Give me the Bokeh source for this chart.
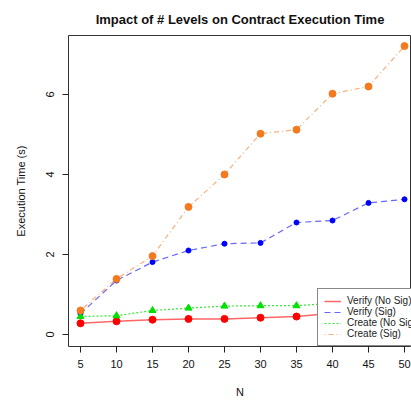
from bokeh.plotting import figure
from bokeh.models import Range1d, FixedTicker, Legend, LegendItem
from bokeh.embed import file_html
from bokeh.resources import INLINE

n_levels = [5, 10, 15, 20, 25, 30, 35, 40, 45, 50]
verify_nosig = [0.28, 0.33, 0.37, 0.39, 0.39, 0.42, 0.45, 0.53, 0.55, 0.58]
verify_sig = [0.52, 1.35, 1.81, 2.10, 2.27, 2.29, 2.80, 2.85, 3.29, 3.38]
create_nosig = [0.45, 0.47, 0.60, 0.66, 0.71, 0.72, 0.72, 0.78, 0.80, 0.82]
create_sig = [0.60, 1.39, 1.96, 3.19, 4.00, 5.02, 5.12, 6.02, 6.20, 7.21]
x_ticks = [5, 10, 15, 20, 25, 30, 35, 40, 45, 50]
y_ticks = [0, 2, 4, 6]
series_names = ["Verify (No Sig)", "Verify (Sig)", "Create (No Sig)", "Create (Sig)"]
title_text = "Impact of # Levels on Contract Execution Time"

FONT = "Liberation Sans"

p = figure(width=411, height=403, output_backend="svg", toolbar_location=None,
           x_range=Range1d(3.333, 50.97), y_range=Range1d(-0.3, 7.475),
           min_border_left=68, min_border_right=0, min_border_top=35, min_border_bottom=57,
           title=title_text)

p.title.align = "center"
p.title.text_font = FONT
p.title.text_font_size = "13px"
p.title.text_font_style = "bold"
p.title.text_color = "#111111"
p.title.offset = 3
p.title.standoff = 17

p.grid.visible = False
p.outline_line_color = "#333333"
p.outline_line_width = 1
p.background_fill_color = "white"
p.border_fill_color = "white"

for ax in (p.xaxis[0], p.yaxis[0]):
    ax.axis_line_color = None
    ax.major_tick_line_color = "#222222"
    ax.major_tick_out = 6
    ax.major_tick_in = 0
    ax.minor_tick_line_color = None
    ax.major_label_text_font = FONT
    ax.major_label_text_font_size = "11px"
    ax.major_label_text_color = "#111111"
    ax.axis_label_text_font = FONT
    ax.axis_label_text_font_size = "11px"
    ax.axis_label_text_font_style = "normal"
    ax.axis_label_text_color = "#111111"

p.xaxis.ticker = FixedTicker(ticks=x_ticks)
p.yaxis.ticker = FixedTicker(ticks=y_ticks)
p.xaxis.axis_label = "N"
p.yaxis.axis_label = "Execution Time (s)"
p.xaxis.major_label_standoff = 7
p.xaxis.axis_label_standoff = 15
p.yaxis.major_label_standoff = 9
p.yaxis.axis_label_standoff = 16
p.yaxis.major_label_orientation = "vertical"

RED = "#FF0000"
BLUE = "#0000FF"
GREEN = "#00E000"
ORANGE = "#F47A20"

l1 = p.line(n_levels, verify_nosig, line_color=RED, line_width=1.5, line_alpha=0.6)
l2 = p.line(n_levels, verify_sig, line_color=BLUE, line_width=1.2, line_alpha=0.6, line_dash="6 4")
l3 = p.line(n_levels, create_nosig, line_color=GREEN, line_width=1.2, line_alpha=0.8, line_dash="2 2")
l4 = p.line(n_levels, create_sig, line_color=ORANGE, line_width=1.2, line_alpha=0.6, line_dash="1 3 5 3")

p.scatter(n_levels, verify_nosig, marker="circle", size=7, fill_color=RED, line_color=RED)
p.scatter(n_levels, verify_sig, marker="circle", size=5, fill_color=BLUE, line_color=BLUE)
p.scatter(n_levels, create_nosig, marker="triangle", size=7, fill_color=GREEN, line_color=GREEN)
p.scatter(n_levels, create_sig, marker="circle", size=7, fill_color=ORANGE, line_color=ORANGE)

legend = Legend(items=[LegendItem(label=series_names[0], renderers=[l1]),
                       LegendItem(label=series_names[1], renderers=[l2]),
                       LegendItem(label=series_names[2], renderers=[l3]),
                       LegendItem(label=series_names[3], renderers=[l4])],
                location=(249, 0))
legend.label_text_font = FONT
legend.label_text_font_size = "10px"
legend.label_text_color = "#222222"
legend.label_height = 10
legend.glyph_height = 10
legend.glyph_width = 17
legend.label_standoff = 6
legend.spacing = 0
legend.padding = 6
legend.margin = 0
legend.border_line_color = "#111111"
legend.border_line_width = 1
legend.background_fill_color = "white"
legend.background_fill_alpha = 1.0
p.add_layout(legend, "center")

open("out.html", "w").write(file_html(p, INLINE))
